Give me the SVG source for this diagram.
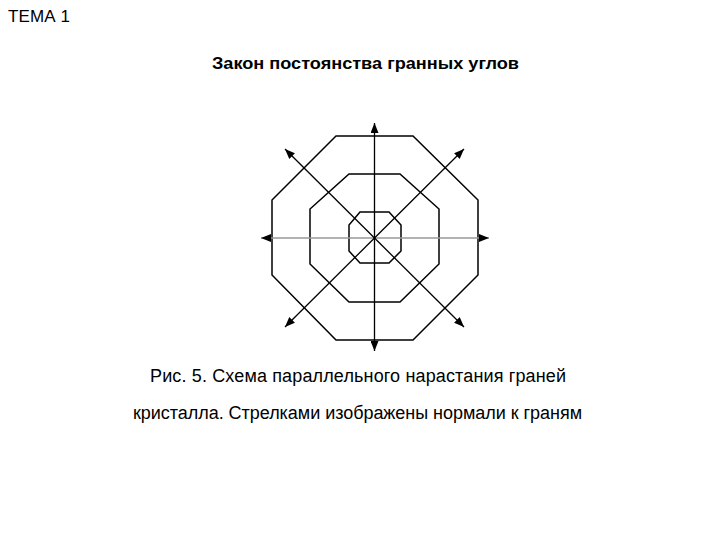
<svg xmlns="http://www.w3.org/2000/svg" width="720" height="540" viewBox="0 0 720 540">
<defs>
<style>
.t{font-family:"Liberation Sans",Arial,sans-serif;fill:#000}
.oct{fill:none;stroke:#000;stroke-width:1.5}
.ax{stroke:#000;stroke-width:1.3;fill:none}
.axg{stroke:#999;stroke-width:1.3;fill:none}
</style>
<marker id="ah" viewBox="0 0 10 8" refX="10" refY="4" markerWidth="10" markerHeight="8" markerUnits="userSpaceOnUse" orient="auto">
<path d="M0,0 L10,4 L0,8 z" fill="#000"/>
</marker>
</defs>
<rect width="720" height="540" fill="#fff"/>
<text class="t" x="8" y="22" font-size="17" textLength="62">ТЕМА 1</text>
<text class="t" x="212" y="69" font-size="16.5" font-weight="bold" textLength="307" lengthAdjust="spacingAndGlyphs">Закон постоянства гранных углов</text>
<g id="outer"><polygon class="oct" points="336,136 413,136 478,200 478,275 413,340 336,340 272,275 272,200"/></g>
<g id="middle"><polygon class="oct" points="349,174 400,174 439,209 439,264 400,302 349,302 310,264 310,209"/></g>
<g id="inner"><polygon class="oct" points="360,212 389,212 401,225 401,251 389,263 360,263 349,251 349,225"/></g>
<g id="connectors">
<line class="axg" x1="374.5" y1="238" x2="261" y2="238" marker-end="url(#ah)"/>
<line class="axg" x1="374.5" y1="238" x2="489" y2="238" marker-end="url(#ah)"/>
<line class="ax" x1="374.5" y1="238" x2="374.5" y2="123" marker-end="url(#ah)"/>
<line class="ax" x1="374.5" y1="238" x2="374.5" y2="351" marker-end="url(#ah)"/>
<line class="ax" x1="374.5" y1="238" x2="285" y2="149" marker-end="url(#ah)"/>
<line class="ax" x1="374.5" y1="238" x2="464" y2="149" marker-end="url(#ah)"/>
<line class="ax" x1="374.5" y1="238" x2="285" y2="327" marker-end="url(#ah)"/>
<line class="ax" x1="374.5" y1="238" x2="464" y2="327" marker-end="url(#ah)"/>
</g>
<text class="t" x="150" y="382" font-size="18" textLength="416">Рис. 5. Схема параллельного нарастания граней</text>
<text class="t" x="133" y="419" font-size="18" textLength="449">кристалла. Стрелками изображены нормали к граням</text>
</svg>
